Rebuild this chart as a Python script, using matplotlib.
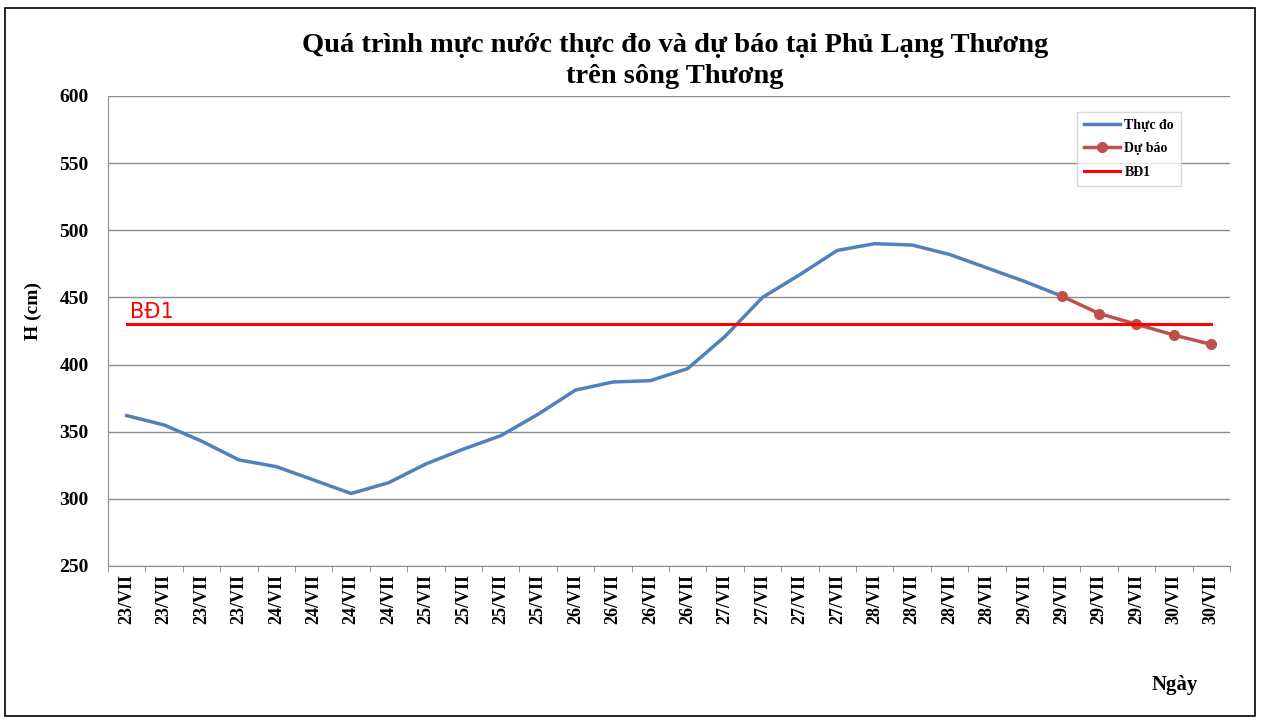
import matplotlib.pyplot as plt
from matplotlib.patches import Rectangle

# x categories (4 readings per day)
days = ["23/VII"] * 4 + ["24/VII"] * 4 + ["25/VII"] * 4 + ["26/VII"] * 4 + \
       ["27/VII"] * 4 + ["28/VII"] * 4 + ["29/VII"] * 4 + ["30/VII"] * 2

# observed water level (cm)
thuc_do = [362, 355, 343, 329, 324, 314, 304, 312, 326, 337, 347, 363,
           381, 387, 388, 397, 421, 450, 467, 485, 490, 489, 482, 472,
           462, 451]
# forecast, starting at the last observed point
du_bao = [451, 438, 430, 422, 415]
bd1 = 430

serif = "Liberation Serif"
fig = plt.figure(figsize=(12.65, 7.2), dpi=100)
ax = fig.add_axes([0.0854, 0.2139, 0.8869, 0.6528])

n = len(days)
x_obs = list(range(len(thuc_do)))
x_fc = list(range(len(thuc_do) - 1, len(thuc_do) - 1 + len(du_bao)))

ax.plot(x_obs, thuc_do, color="#4f81bd", lw=2.5, label="Thực đo", zorder=3)
ax.plot(x_fc, du_bao, color="#c0504d", lw=2.5, marker="o", ms=7,
        label="Dự báo", zorder=4)
ax.plot([0, n - 1], [bd1, bd1], color="#ff0000", lw=2.2, label="BĐ1", zorder=5)
ax.text(0.1, bd1 + 1.5, "BĐ1", color="#ff0000", fontsize=15,
        family="DejaVu Sans", va="bottom")

ax.set_xlim(-0.5, n - 0.5)
ax.set_ylim(250, 600)
ax.set_yticks(range(250, 601, 50))
ax.set_xticks(range(n))
ax.set_xticklabels(days, rotation=90, family=serif, fontweight="bold",
                   fontsize=13)
for lb in ax.get_yticklabels():
    lb.set_family(serif)
    lb.set_fontweight("bold")
    lb.set_fontsize(14)
ax.tick_params(axis="x", length=0, pad=6)
ax.tick_params(axis="y", length=0, pad=14)
ax.set_xticks([i - 0.5 for i in range(n + 1)], minor=True)
ax.tick_params(axis="x", which="minor", length=4, color="#888888")

ax.grid(axis="y", color="#8c8c8c", lw=1)
ax.set_axisbelow(True)
for s in ["top", "right"]:
    ax.spines[s].set_visible(False)
for s in ["left", "bottom"]:
    ax.spines[s].set_color("#8c8c8c")

fig.text(33 / 1265, 1 - 311 / 720, "H (cm)", family=serif, fontweight="bold",
         fontsize=14, rotation=90, ha="center", va="center")
fig.text(675 / 1265, 1 - 33 / 720,
         "Quá trình mực nước thực đo và dự báo tại Phủ Lạng Thương\n"
         "trên sông Thương", family=serif, fontweight="bold",
         fontsize=20.5, ha="center", va="top", linespacing=1.3)

leg = ax.legend(loc="upper right", bbox_to_anchor=(0.9563, 0.966),
                borderaxespad=0,
                prop={"family": serif, "weight": "bold", "size": 10},
                handlelength=2.6, frameon=True, fancybox=False,
                borderpad=0.5, labelspacing=0.75, handletextpad=0.3)
leg.get_frame().set_edgecolor("#d0d0d0")
leg.get_frame().set_linewidth(1)

fig.text(1175 / 1265, 1 - 690 / 720, "Ngày", family=serif, fontweight="bold",
         fontsize=15, ha="center")

fig.patches.append(Rectangle((0.004, 0.006), 0.988, 0.983,
                             transform=fig.transFigure, fill=False,
                             edgecolor="black", lw=1.2))

fig.savefig("out.png", dpi=100)
